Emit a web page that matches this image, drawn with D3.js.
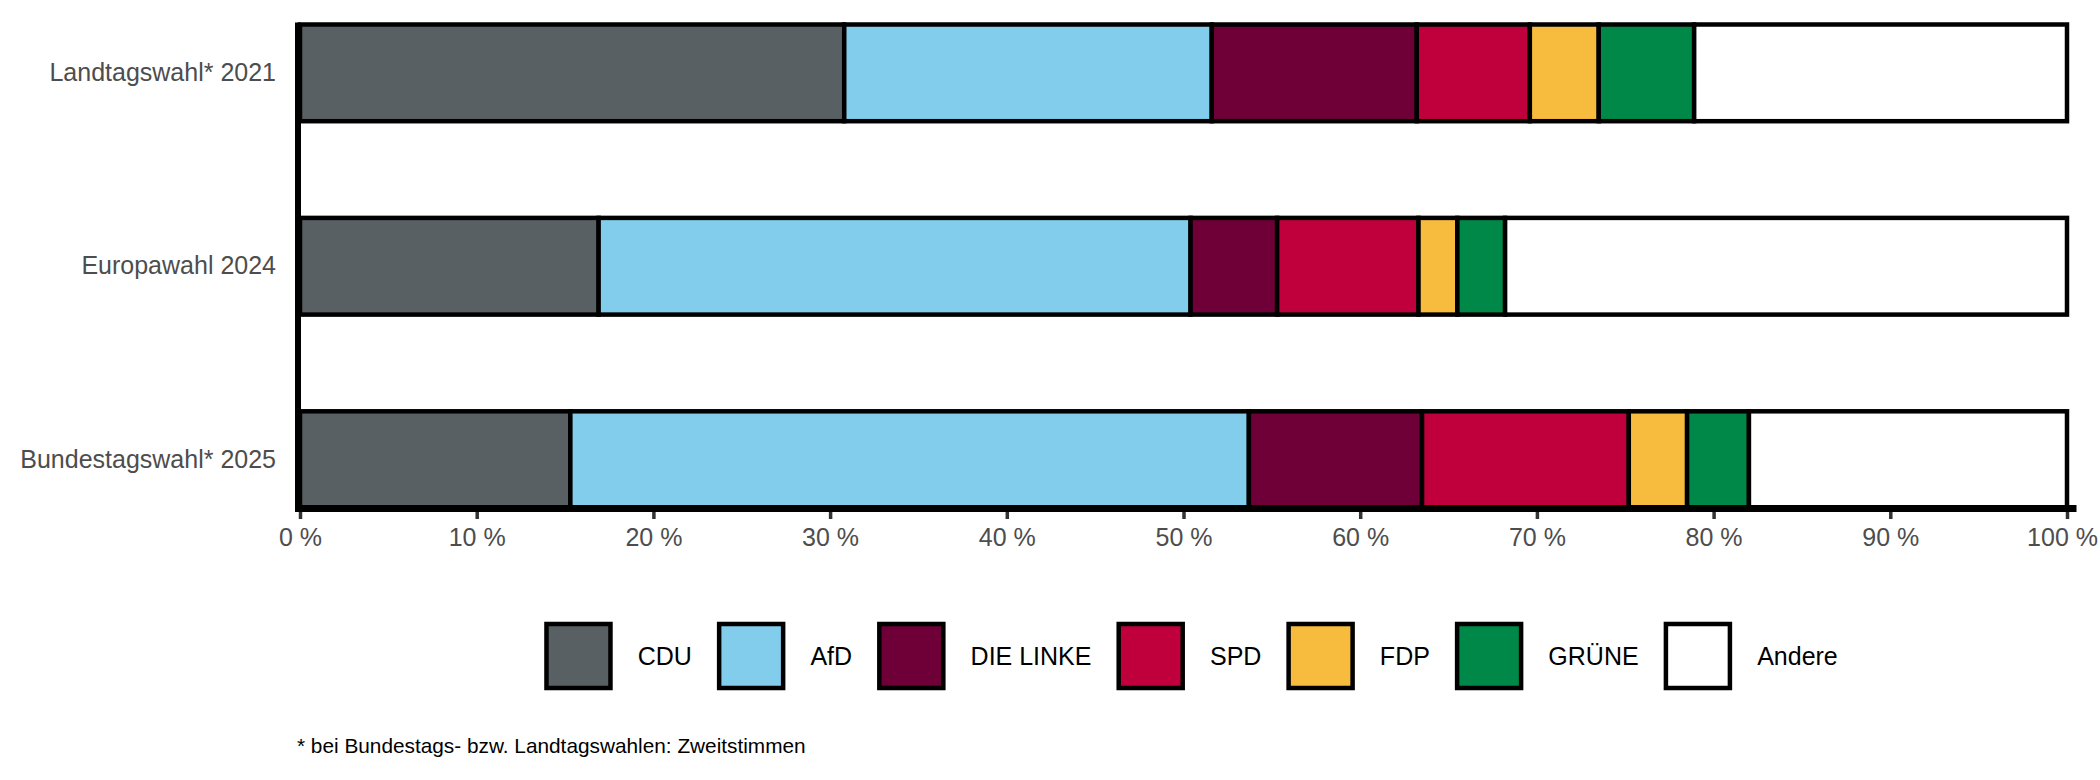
<!DOCTYPE html>
<html>
<head>
<meta charset="utf-8">
<script src="https://cdn.jsdelivr.net/npm/d3@7"></script>
<style>
  html, body { margin: 0; padding: 0; background: #ffffff; }
  svg { display: block; font-family: "Liberation Sans", Arial, Helvetica, sans-serif; }
</style>
</head>
<body>
<svg id="chart" width="2100" height="780"></svg>
<script>
// ---- data ----
const categories = ["Landtagswahl* 2021", "Europawahl 2024", "Bundestagswahl* 2025"];
const parties = ["CDU", "AfD", "DIE LINKE", "SPD", "FDP", "GRÜNE", "Andere"];
const partyColors = ["#596063", "#82cdeb", "#6e0037", "#c0003c", "#f7bc3d", "#008848", "#ffffff"];
const cdu    = [30.8, 16.9, 15.3];
const afd    = [20.8, 33.5, 38.4];
const linke  = [11.6,  4.9,  9.8];
const spd    = [ 6.4,  8.0, 11.7];
const fdp    = [ 3.9,  2.2,  3.3];
const gruene = [ 5.4,  2.7,  3.5];
const andere = [21.1, 31.8, 18.0];
const xTickValues = [0, 10, 20, 30, 40, 50, 60, 70, 80, 90, 100];
const xTickLabels = ["0 %", "10 %", "20 %", "30 %", "40 %", "50 %", "60 %", "70 %", "80 %", "90 %", "100 %"];
const footnote = "* bei Bundestags- bzw. Landtagswahlen: Zweitstimmen";

// ---- build table ----
const seriesValues = [cdu, afd, linke, spd, fdp, gruene, andere];
const rows = categories.map((c, i) => {
  const r = { cat: c };
  parties.forEach((p, j) => { r[p] = seriesValues[j][i]; });
  return r;
});
const stacked = d3.stack().keys(parties)(rows);

const svg = d3.select("#chart");

const x = d3.scaleLinear().domain([0, 100]).range([300, 2067]);
const y = d3.scaleBand().domain(categories).range([24.5, 508]).paddingInner(0.5).paddingOuter(0);
const color = d3.scaleOrdinal().domain(parties).range(partyColors);

// bars
const g = svg.append("g");
stacked.forEach(layer => {
  g.selectAll(null)
    .data(layer)
    .enter()
    .append("rect")
    .attr("x", d => x(d[0]))
    .attr("y", d => y(d.data.cat))
    .attr("width", d => x(d[1]) - x(d[0]))
    .attr("height", y.bandwidth())
    .attr("fill", color(layer.key))
    .attr("stroke", "#000")
    .attr("stroke-width", 4.5);
});

// axis lines
svg.append("line")
  .attr("x1", 298).attr("x2", 298)
  .attr("y1", 22.5).attr("y2", 512)
  .attr("stroke", "#000").attr("stroke-width", 6);
svg.append("line")
  .attr("x1", 295).attr("x2", 2076.5)
  .attr("y1", 508.5).attr("y2", 508.5)
  .attr("stroke", "#000").attr("stroke-width", 7);

// x axis ticks + labels
const xAxis = d3.axisBottom(x)
  .tickValues(xTickValues)
  .tickFormat((d, i) => xTickLabels[i])
  .tickSize(7)
  .tickPadding(9);
const xa = svg.append("g").attr("transform", "translate(0,512)").call(xAxis);
xa.select(".domain").remove();
xa.selectAll(".tick line").attr("stroke", "#333333").attr("stroke-width", 3.5);
xa.selectAll(".tick text")
  .attr("fill", "#4d4d4d")
  .style("font-size", "25px")
  .style("font-family", "'Liberation Sans', Arial, sans-serif");
// keep the last label inside the picture
xa.selectAll(".tick text").each(function () {
  const bb = this.getBBox();
  const tr = this.parentNode.getAttribute("transform");
  const tx = +tr.match(/translate\(([-\d.]+)/)[1];
  const right = tx + bb.x + bb.width;
  if (right > 2098) d3.select(this).attr("x", 2098 - right);
});

// y axis labels
const yAxis = d3.axisLeft(y).tickSize(0).tickPadding(22);
const ya = svg.append("g").attr("transform", "translate(298,0)").call(yAxis);
ya.select(".domain").remove();
ya.selectAll(".tick text")
  .attr("fill", "#4d4d4d")
  .style("font-size", "25px")
  .style("font-family", "'Liberation Sans', Arial, sans-serif");

// legend
const keySize = 64, keyGap = 25, itemGap = 25;
const legend = svg.append("g");
const items = parties.map(p => {
  const gi = legend.append("g");
  gi.append("rect")
    .attr("x", 2.25).attr("y", -keySize / 2)
    .attr("width", keySize).attr("height", keySize)
    .attr("fill", color(p))
    .attr("stroke", "#000").attr("stroke-width", 4.5);
  const t = gi.append("text")
    .attr("x", keySize + 4.5 + keyGap)
    .attr("y", 0)
    .attr("dominant-baseline", "central")
    .attr("fill", "#000")
    .style("font-size", "25px")
    .text(p);
  const w = keySize + 4.5 + keyGap + t.node().getComputedTextLength();
  return { gi, w };
});
const totalW = d3.sum(items, d => d.w) + itemGap * (items.length - 1);
let cx = 1191 - totalW / 2;
items.forEach(it => {
  it.gi.attr("transform", `translate(${cx},656)`);
  cx += it.w + itemGap;
});

// footnote
svg.append("text")
  .attr("x", 297).attr("y", 753)
  .attr("fill", "#000")
  .style("font-size", "20.8px")
  .text(footnote);
</script>
</body>
</html>
